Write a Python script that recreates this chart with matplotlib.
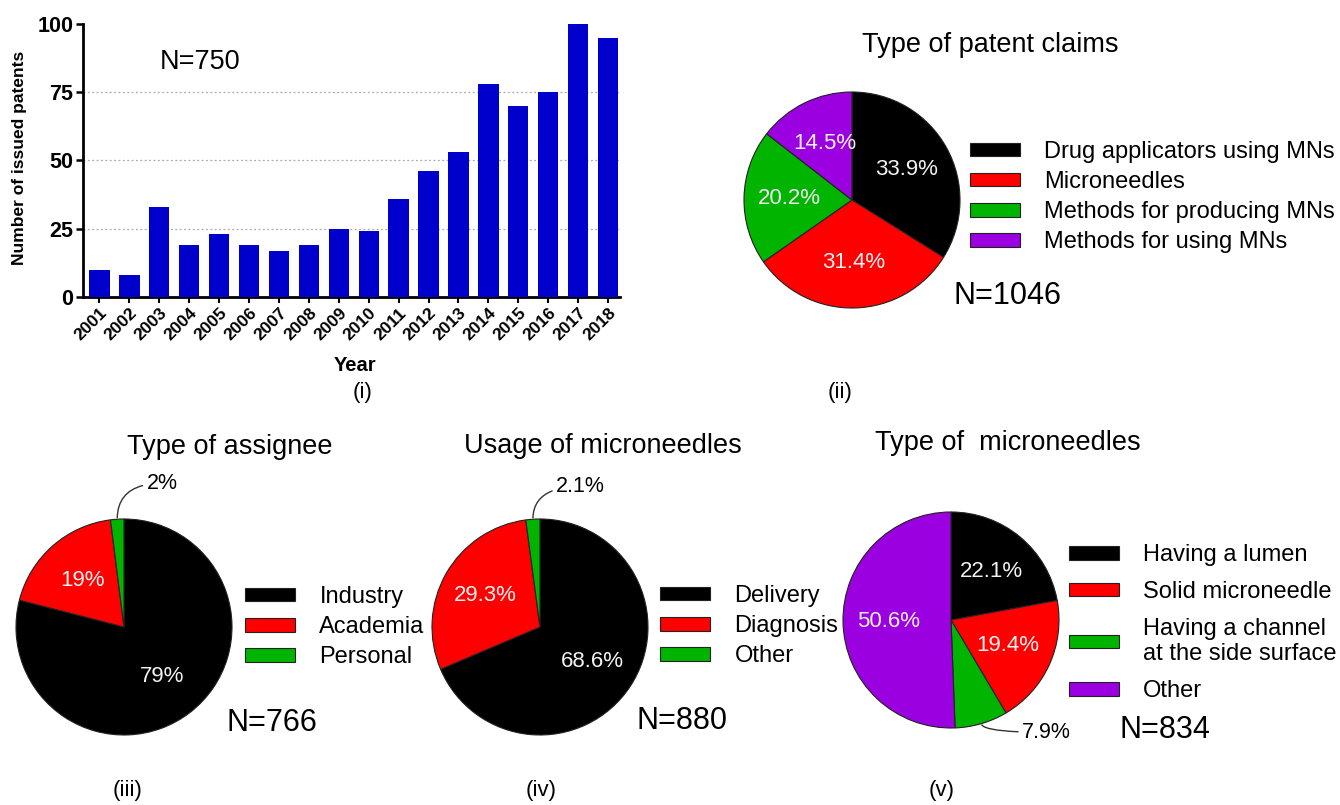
import numpy as np
import matplotlib
matplotlib.use("Agg")
import matplotlib.pyplot as plt

plt.rcParams['font.family'] = ['Liberation Sans', 'DejaVu Sans']

# (i) issued patents per year
years = ['2001', '2002', '2003', '2004', '2005', '2006', '2007', '2008', '2009',
         '2010', '2011', '2012', '2013', '2014', '2015', '2016', '2017', '2018']
patents = [10, 8, 33, 19, 23, 19, 17, 19, 25, 24, 36, 46, 53, 78, 70, 75, 100, 95]

# (ii) type of patent claims
claim_labels = ['Drug applicators using MNs', 'Microneedles',
                'Methods for producing MNs', 'Methods for using MNs']
claim_pct = [33.9, 31.4, 20.2, 14.5]

# (iii) type of assignee
assignee_labels = ['Industry', 'Academia', 'Personal']
assignee_pct = [79, 19, 2]

# (iv) usage of microneedles
usage_labels = ['Delivery', 'Diagnosis', 'Other']
usage_pct = [68.6, 29.3, 2.1]

# (v) type of microneedles
mn_labels = ['Having a lumen', 'Solid microneedle',
             'Having a channel\nat the side surface', 'Other']
mn_pct = [22.1, 19.4, 7.9, 50.6]

colors = ['#000000', '#ff0000', '#00b400', '#9a00e0']
W, H = 1340, 805

fig = plt.figure(figsize=(W / 100, H / 100), dpi=100)


def ftext(x, y, s, **kw):
    kw.setdefault('ha', 'center')
    kw.setdefault('va', 'center')
    return fig.text(x / W, 1 - y / H, s, **kw)


# ---- bar chart ----
ax = fig.add_axes([83 / W, 1 - 297 / H, (620 - 83) / W, (297 - 24) / H])
xpos = np.arange(len(years))
ax.bar(xpos, patents, width=0.68, color='#0000cc', zorder=3)
ax.set_xlim(-0.55, 17.4)
ax.set_ylim(0, 100)
ax.set_yticks([0, 25, 50, 75, 100])
for y in [25, 50, 75]:
    ax.axhline(y, color='#aaaaaa', lw=0.9, ls=(0, (1.5, 2)), zorder=1)
ax.set_xticks(xpos)
ax.set_xticklabels(years, rotation=45, ha='right', rotation_mode='anchor',
                   fontsize=12.5, fontweight='bold')
for lab in ax.get_yticklabels():
    lab.set_fontweight('bold')
ax.tick_params(axis='y', labelsize=15.5, width=1.8, length=5, pad=2)
ax.tick_params(axis='x', width=1.5, length=4, pad=2)
for s in ['top', 'right']:
    ax.spines[s].set_visible(False)
for s in ['left', 'bottom']:
    ax.spines[s].set_linewidth(2)

ftext(200, 62, 'N=750', fontsize=19.5)
ftext(20, 158, 'Number of issued patents', rotation=90, fontsize=12.5, fontweight='bold')
ftext(355, 365, 'Year', fontsize=14.5, fontweight='bold')
ftext(363, 392, '(i)', fontsize=16)


# ---- pies ----
def pie_ax(cx, cy, r=108):
    side = 2.2 * r
    a = fig.add_axes([(cx - side / 2) / W, 1 - (cy + side / 2) / H, side / W, side / H])
    return a


def draw_pie(a, values, fmt, cut=0, text_at=None):
    def autopct(p):
        if p < cut:
            return ''
        return fmt % p
    wedges, _, autotexts = a.pie(values, colors=colors[:len(values)], startangle=90,
                                 counterclock=False, autopct=autopct, pctdistance=0.58,
                                 wedgeprops=dict(edgecolor='#222222', linewidth=0.8),
                                 textprops=dict(color='#f2f2f2', fontsize=16))
    # small slices get an outside label with a curved leader
    for w, v in zip(wedges, values):
        if v < cut:
            ang = np.deg2rad((w.theta1 + w.theta2) / 2)
            xy = (np.cos(ang), np.sin(ang))
            a.annotate(fmt % v, xy=xy, xytext=text_at, textcoords='data',
                       fontsize=15.5, ha='left', va='center',
                       arrowprops=dict(arrowstyle='-', color='#333333', lw=1,
                                       shrinkA=1, shrinkB=1,
                                       connectionstyle='angle3,angleA=0,angleB=90'))
    a.set_xlim(-1.1, 1.1)
    a.set_ylim(-1.1, 1.1)
    a.set_aspect('equal')
    a.axis('off')
    return wedges


def legend(wedges, labels, x, y, spacing):
    fig.legend(wedges, labels, loc='center left',
               bbox_to_anchor=(x / W, 1 - y / H), frameon=False,
               borderpad=0, borderaxespad=0, fontsize=17,
               handlelength=2.1, handleheight=0.52, handletextpad=1.05,
               labelspacing=spacing)


# (ii)
a2 = pie_ax(852, 200)
w2 = draw_pie(a2, claim_pct, '%.1f%%')
legend(w2, claim_labels, 970, 197, 0.34)
ftext(990, 45, 'Type of patent claims', fontsize=19.5)
ftext(1008, 296, 'N=1046', fontsize=22)
ftext(840, 392, '(ii)', fontsize=16)

# (iii)
a3 = pie_ax(124, 627)
w3 = draw_pie(a3, assignee_pct, '%.0f%%', cut=5, text_at=(0.21, 1.33))
legend(w3, assignee_labels, 245, 627, 0.34)
ftext(230, 447, 'Type of assignee', fontsize=19.5)
ftext(272, 723, 'N=766', fontsize=22)
ftext(128, 790, '(iii)', fontsize=16)

# (iv)
a4 = pie_ax(540, 627)
w4 = draw_pie(a4, usage_pct, '%.1f%%', cut=5, text_at=(0.15, 1.3))
legend(w4, usage_labels, 660, 626, 0.34)
ftext(603, 446, 'Usage of microneedles', fontsize=19.5)
ftext(682, 721, 'N=880', fontsize=22)
ftext(541, 790, '(iv)', fontsize=16)

# (v)
a5 = pie_ax(951, 620)
w5 = draw_pie(a5, mn_pct, '%.1f%%', cut=10, text_at=(0.66, -1.04))
legend(w5, mn_labels, 1069, 623, 0.63)
ftext(1008, 443, 'Type of  microneedles', fontsize=19.5)
ftext(1165, 730, 'N=834', fontsize=22)
ftext(942, 790, '(v)', fontsize=16)

fig.savefig('out.png', dpi=100)
